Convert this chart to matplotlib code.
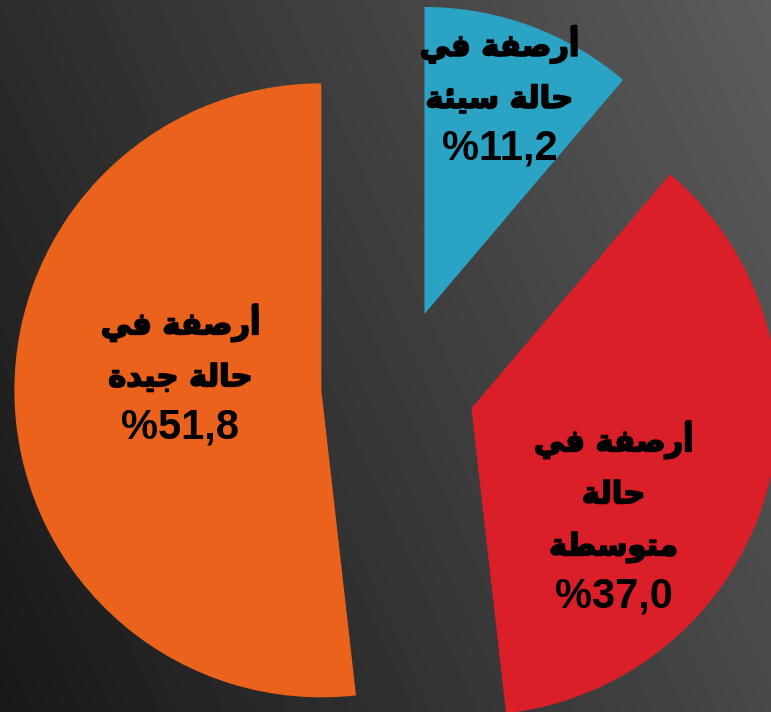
import numpy as np
import matplotlib
matplotlib.use('Agg')
import matplotlib.pyplot as plt
import matplotlib.patheffects as pe

# ---------------- data ----------------
categories = ['أرصفة في حالة سيئة', 'أرصفة في حالة متوسطة', 'أرصفة في حالة جيدة']
values = [11.2, 37.0, 51.8]
label_lines = [['أرصفة في', 'حالة سيئة'],
               ['أرصفة في', 'حالة', 'متوسطة'],
               ['أرصفة في', 'حالة جيدة']]
pct_labels = ['%11,2', '%37,0', '%51,8']
colors = ['#2AA3C4', '#DA1F28', '#EA621B']

# ------------- minimal Arabic shaping (matplotlib has no CTL) -------------
FORMS = {
    'أ': ('\uFE83', '\uFE84'), 'ا': ('\uFE8D', '\uFE8E'), 'ر': ('\uFEAD', '\uFEAE'),
    'د': ('\uFEA9', '\uFEAA'), 'و': ('\uFEED', '\uFEEE'), 'ة': ('\uFE93', '\uFE94'),
    'ص': ('\uFEB9', '\uFEBA', '\uFEBB', '\uFEBC'), 'ف': ('\uFED1', '\uFED2', '\uFED3', '\uFED4'),
    'ي': ('\uFEF1', '\uFEF2', '\uFEF3', '\uFEF4'), 'ح': ('\uFEA1', '\uFEA2', '\uFEA3', '\uFEA4'),
    'ل': ('\uFEDD', '\uFEDE', '\uFEDF', '\uFEE0'), 'س': ('\uFEB1', '\uFEB2', '\uFEB3', '\uFEB4'),
    'ئ': ('\uFE89', '\uFE8A', '\uFE8B', '\uFE8C'), 'ج': ('\uFE9D', '\uFE9E', '\uFE9F', '\uFEA0'),
    'م': ('\uFEE1', '\uFEE2', '\uFEE3', '\uFEE4'), 'ت': ('\uFE95', '\uFE96', '\uFE97', '\uFE98'),
    'ط': ('\uFEC1', '\uFEC2', '\uFEC3', '\uFEC4'),
}


def shape(s):
    out = []
    n = len(s)
    for i, ch in enumerate(s):
        f = FORMS.get(ch)
        if f is None:
            out.append(ch)
            continue
        prev = s[i - 1] if i > 0 else None
        nxt = s[i + 1] if i < n - 1 else None
        jp = prev in FORMS and len(FORMS[prev]) == 4
        jn = len(f) == 4 and nxt in FORMS
        if jp and jn:
            out.append(f[3])
        elif jp:
            out.append(f[1])
        elif jn:
            out.append(f[2])
        else:
            out.append(f[0])
    return ''.join(out)[::-1]


# ---------------- figure ----------------
W, H, DPI = 771, 712, 100
fig = plt.figure(figsize=(W / DPI, H / DPI), dpi=DPI)

# background gradient
bg = fig.add_axes([0, 0, 1, 1], zorder=0)
xx, yy = np.meshgrid(np.linspace(0, 1, 200), np.linspace(0, 1, 200))
grad = (44 + 48 * xx - 20 * yy) / 255.0
bg.imshow(grad, cmap='gray', vmin=0, vmax=1, extent=[0, 1, 1, 0], aspect='auto',
          interpolation='bilinear')
bg.set_xlim(0, 1)
bg.set_ylim(1, 0)
bg.axis('off')

ax = fig.add_axes([0, 0, 1, 1], zorder=1)
ax.patch.set_alpha(0)
wedges, _ = ax.pie(values, colors=colors, startangle=90, counterclock=False,
                   explode=[0.25] * len(values), radius=1,
                   wedgeprops=dict(linewidth=0))
S = 307.0  # pixels per radius
cx, cy = 398.0, 386.0
ax.set_xlim(-cx / S, (W - cx) / S)
ax.set_ylim(-(H - cy) / S, cy / S)
ax.set_aspect('auto')
ax.axis('off')

# label placement (offset from each wedge centre, data units) and line spacing
offsets = [(0.244, 0.502), (0.463, -0.648), (-0.459, -0.156)]
step = 52 / S
ar_font = dict(family=['DejaVu Sans'], fontweight='bold', fontsize=22, color='black',
               path_effects=[pe.withStroke(linewidth=1.3, foreground='black')])
num_font = dict(family=['Liberation Sans', 'DejaVu Sans'], fontweight='bold',
                fontsize=30, color='black')

for w, lines, pct, (dx, dy) in zip(wedges, label_lines, pct_labels, offsets):
    x0, y0 = w.center
    x = x0 + dx
    ybase = y0 + dy
    ax.text(x, ybase, pct, ha='center', va='baseline', **num_font)
    for k, line in enumerate(reversed(lines)):
        ax.text(x, ybase + step * (k + 1), shape(line), ha='center', va='baseline', **ar_font)

fig.savefig('out.png', dpi=DPI)
